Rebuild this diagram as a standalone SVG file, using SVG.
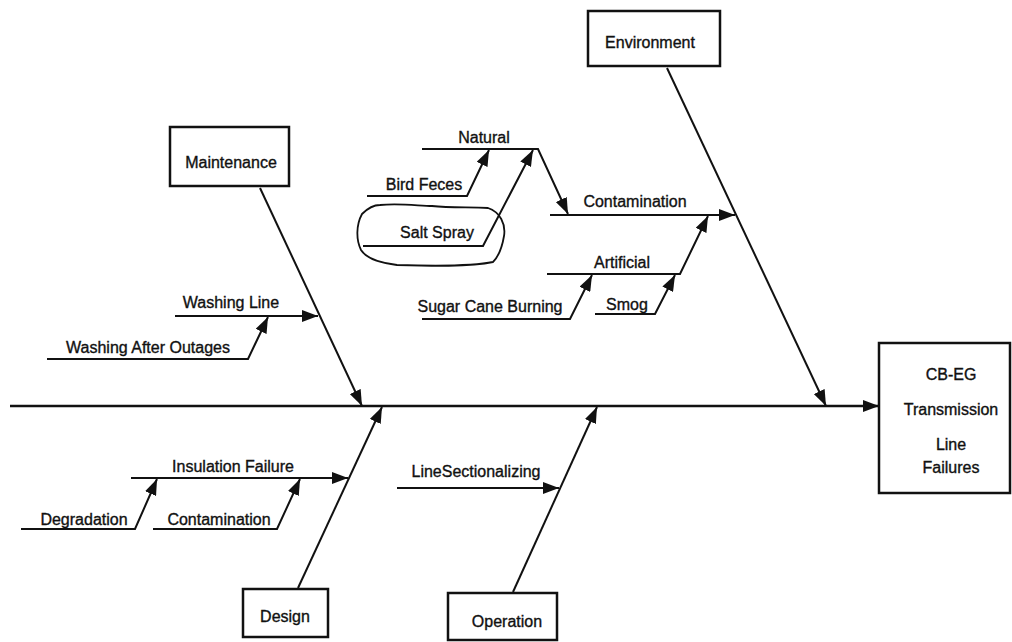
<svg xmlns="http://www.w3.org/2000/svg" width="1012" height="642" viewBox="0 0 1012 642">
  <style>
    text { font-family: "Liberation Sans", Arial, sans-serif; font-size: 16px; fill: #111; stroke: #111; stroke-width: 0.35; text-anchor: middle; }
    .box { fill: #fff; stroke: #111; stroke-width: 2.5; }
    .ln { fill: none; stroke: #111; stroke-width: 2; stroke-linejoin: miter; }
    .spine { fill: none; stroke: #111; stroke-width: 2.5; }
    .loop { fill: none; stroke: #111; stroke-width: 1.8; }
  </style>
  <defs>
    <marker id="arr" markerUnits="userSpaceOnUse" markerWidth="18" markerHeight="12" refX="16" refY="6" orient="auto">
      <path d="M0,0 L16,6 L0,12 z" fill="#111"/>
    </marker>
  </defs>
  <rect width="1012" height="642" fill="#fff"/>

  <!-- category boxes -->
  <g id="environment">
    <rect class="box" x="588" y="11" width="132" height="55"/>
    <text x="650" y="48">Environment</text>
  </g>
  <g id="maintenance">
    <rect class="box" x="170" y="127" width="119" height="59"/>
    <text x="231" y="168">Maintenance</text>
  </g>
  <g id="design">
    <rect class="box" x="243" y="589" width="85" height="48"/>
    <text x="285" y="622">Design</text>
  </g>
  <g id="operation">
    <rect class="box" x="448" y="593" width="109" height="47"/>
    <text x="507" y="627">Operation</text>
  </g>
  <g id="effect">
    <rect class="box" x="879" y="343" width="131" height="150"/>
    <text x="951" y="380">CB-EG</text>
    <text x="951" y="415">Transmission</text>
    <text x="951" y="450">Line</text>
    <text x="951" y="473">Failures</text>
  </g>

  <!-- cause labels -->
  <g id="natural"><text x="484" y="143">Natural</text></g>
  <g id="bird-feces"><text x="424" y="190">Bird Feces</text></g>
  <g id="salt-spray">
    <path class="loop" d="M380,205 C400,203 420,206 432,206 C450,208 470,207 488,208 C500,212 506,224 504,236 C502,248 499,256 493,262 C470,267 430,266 397,265 C380,263 366,258 361,250 C356,240 356,225 362,214 C368,208 374,205 380,205 Z"/>
    <text x="437" y="238">Salt Spray</text>
  </g>
  <g id="contamination-env"><text x="635" y="207">Contamination</text></g>
  <g id="artificial"><text x="622" y="268">Artificial</text></g>
  <g id="sugar-cane"><text x="490" y="312">Sugar Cane Burning</text></g>
  <g id="smog"><text x="627" y="310">Smog</text></g>
  <g id="washing-line"><text x="231" y="308">Washing Line</text></g>
  <g id="washing-after"><text x="148" y="353">Washing  After  Outages</text></g>
  <g id="insulation"><text x="233" y="472">Insulation  Failure</text></g>
  <g id="degradation"><text x="84" y="525">Degradation</text></g>
  <g id="contamination-design"><text x="219" y="525">Contamination</text></g>
  <g id="sectionalizing"><text x="476" y="477">LineSectionalizing</text></g>

  <!-- connectors -->
  <g id="connectors">
    <!-- spine -->
    <path class="spine" d="M10,406 L879,406" marker-end="url(#arr)"/>
    <!-- main bones -->
    <path class="ln" d="M667,68 L826,406" marker-end="url(#arr)"/>
    <path class="ln" d="M260,188 L362,406" marker-end="url(#arr)"/>
    <path class="ln" d="M298,588 L382,407" marker-end="url(#arr)"/>
    <path class="ln" d="M513,592 L597,407" marker-end="url(#arr)"/>
    <!-- environment sub-branches -->
    <path class="ln" d="M550,215 L735,215" marker-end="url(#arr)"/>
    <path class="ln" d="M422,149 L538,149 L568,214" marker-end="url(#arr)"/>
    <path class="ln" d="M367,196 L467,196 L489,150" marker-end="url(#arr)"/>
    <path class="ln" d="M363,246 L483,246 L533,150" marker-end="url(#arr)"/>
    <path class="ln" d="M547,274 L680,274 L708,216" marker-end="url(#arr)"/>
    <path class="ln" d="M422,319 L570,319 L592,275" marker-end="url(#arr)"/>
    <path class="ln" d="M595,314 L655,314 L675,275" marker-end="url(#arr)"/>
    <!-- maintenance sub-branches -->
    <path class="ln" d="M175,316 L318,316" marker-end="url(#arr)"/>
    <path class="ln" d="M47,359 L248,359 L268,317" marker-end="url(#arr)"/>
    <!-- design sub-branches -->
    <path class="ln" d="M131,478 L348,478" marker-end="url(#arr)"/>
    <path class="ln" d="M21,529 L135,529 L157,479" marker-end="url(#arr)"/>
    <path class="ln" d="M153,529 L277,529 L300,479" marker-end="url(#arr)"/>
    <!-- operation sub-branch -->
    <path class="ln" d="M397,488 L559,488" marker-end="url(#arr)"/>
  </g>
</svg>
